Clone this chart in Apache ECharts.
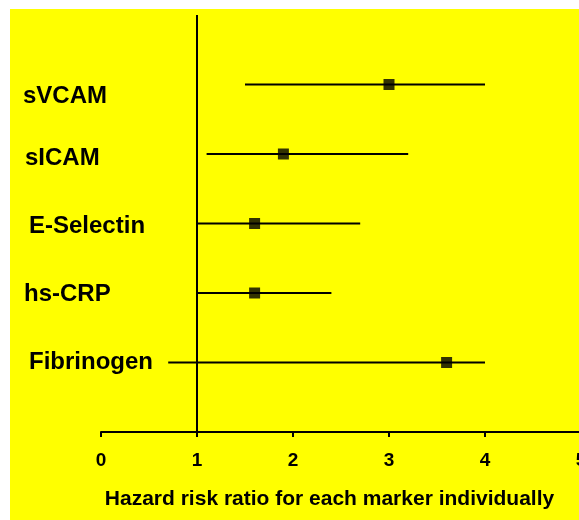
<!DOCTYPE html>
<html>
<head>
<meta charset="utf-8">
<script src="https://cdn.jsdelivr.net/npm/echarts@6/dist/echarts.min.js"></script>
<style>
  html, body { margin: 0; padding: 0; background: #ffffff; width: 579px; height: 520px; overflow: hidden; }
  #c { position: absolute; left: 10px; top: 9px; width: 569px; height: 511px; }
</style>
</head>
<body>
<div id="c"></div>
<script>
// ---- data ----
const categories = ['sVCAM', 'sICAM', 'E-Selectin', 'hs-CRP', 'Fibrinogen'];
const hazardRatio = [3.0, 1.9, 1.6, 1.6, 3.6];
const ciLow = [1.5, 1.1, 1.0, 1.0, 0.7];
const ciHigh = [4.0, 3.2, 2.7, 2.4, 4.0];
const xTickLabels = ['0', '1', '2', '3', '4', '5'];
const referenceValue = 1;
const xAxisTitle = 'Hazard risk ratio for each marker individually';

// row position on the vertical value axis (first category at top)
const rowPos = categories.map((_, i) => categories.length - i);

const font = "'Liberation Sans', Arial, Helvetica, sans-serif";

const chart = echarts.init(document.getElementById('c'), null, { renderer: 'canvas' });

const base = { fontFamily: font, fontWeight: 'bold', fontSize: 24, color: '#000' };
const rich = {
  r0: Object.assign({}, base, { padding: [24, 0, 0, 0] }),
  r1: Object.assign({}, base, { padding: [8, 0, 0, 2] }),
  r2: Object.assign({}, base, { padding: [6, 0, 0, 6] }),
  r3: Object.assign({}, base, { padding: [2, 0, 0, 1] }),
  r4: Object.assign({}, base, { padding: [0, 0, 0, 6] })
};

const option = {
  backgroundColor: '#ffff00',
  animation: false,
  grid: { left: 91, top: 6, width: 480, height: 417, containLabel: false, outerBoundsMode: 'none' },
  xAxis: {
    type: 'value',
    min: 0,
    max: 5,
    interval: 1,
    axisLine: { show: true, onZero: false, lineStyle: { color: '#000', width: 2 } },
    axisTick: { show: true, inside: false, length: 5, lineStyle: { color: '#000', width: 2 } },
    splitLine: { show: false },
    axisLabel: {
      color: '#000', fontFamily: font, fontWeight: 'bold', fontSize: 19, margin: 19,
      showMaxLabel: true, showMinLabel: true, hideOverlap: false,
      formatter: (v) => xTickLabels[Math.round(v)] ?? ''
    },
    name: xAxisTitle,
    nameLocation: 'middle',
    nameGap: 57,
    nameTextStyle: { color: '#000', fontFamily: font, fontWeight: 'bold', fontSize: 21, padding: [0, 23, 0, 0] }
  },
  yAxis: {
    type: 'value',
    min: 0,
    max: categories.length + 1,
    interval: 1,
    axisLine: { show: false },
    axisTick: { show: false },
    splitLine: { show: false },
    axisLabel: {
      align: 'left',
      margin: 78,
      showMinLabel: true, showMaxLabel: true,
      formatter: (v) => {
        const i = rowPos.indexOf(Math.round(v));
        return i < 0 ? '' : '{r' + i + '|' + categories[i] + '}';
      },
      rich: rich
    }
  },
  series: [
    {
      type: 'custom',
      name: 'CI',
      data: categories.map((_, i) => [ciLow[i], ciHigh[i], rowPos[i]]),
      encode: { x: [0, 1], y: 2 },
      renderItem: (params, api) => {
        const p1 = api.coord([api.value(0), api.value(2)]);
        const p2 = api.coord([api.value(1), api.value(2)]);
        return {
          type: 'line',
          shape: { x1: p1[0], y1: p1[1], x2: p2[0], y2: p2[1] },
          style: { stroke: '#000', lineWidth: 2 }
        };
      },
      markLine: {
        silent: true,
        symbol: ['none', 'none'],
        label: { show: false },
        lineStyle: { color: '#000', width: 2, type: 'solid' },
        data: [{ xAxis: referenceValue }]
      },
      z: 2
    },
    {
      type: 'scatter',
      name: 'HR',
      data: categories.map((_, i) => [hazardRatio[i], rowPos[i]]),
      symbol: 'rect',
      symbolSize: 11,
      itemStyle: { color: '#000' },
      z: 3
    }
  ]
};

chart.setOption(option);
</script>
</body>
</html>
